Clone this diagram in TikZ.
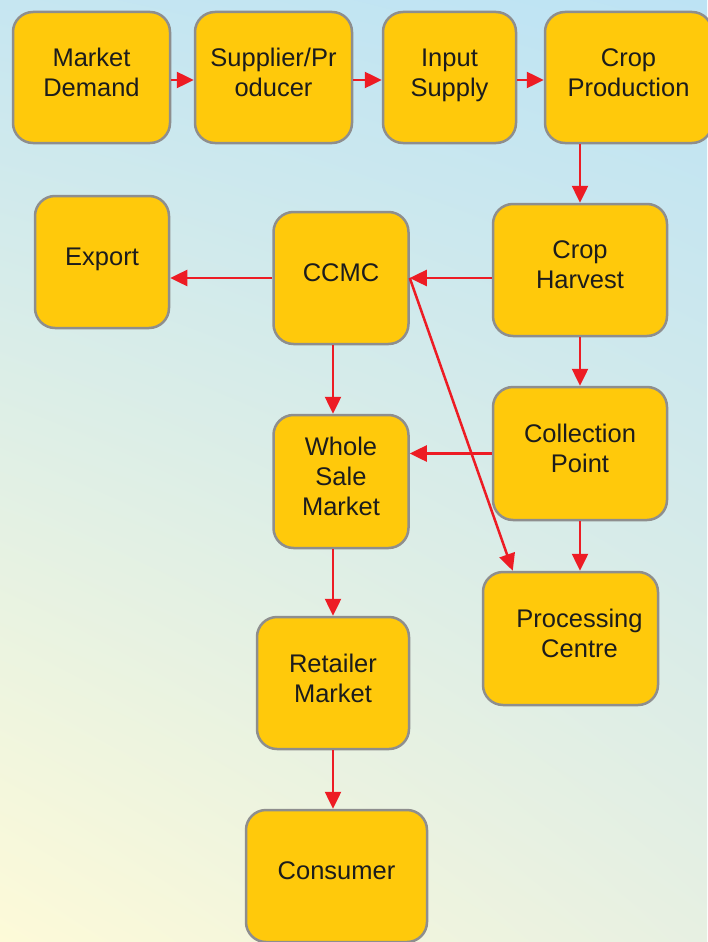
\documentclass[tikz,border=0pt]{standalone}
\usepackage{fontspec}
\setmainfont{Liberation Sans}
\usetikzlibrary{arrows.meta,shadings}
\definecolor{boxgold}{HTML}{FFC90B}
\definecolor{boxgray}{HTML}{8E8E8E}
\definecolor{arrred}{HTML}{ED1C24}
\definecolor{txtdark}{HTML}{1C1C1C}
\tikzset{
  stage/.style={shape=rectangle,draw=boxgray,line width=2.5pt,fill=boxgold,
    rounded corners=20pt,align=center,inner sep=0pt,text=txtdark,text depth=10pt,
    font=\fontsize{25.5}{30}\selectfont},
  arr/.style={draw=arrred,line width=2.5pt,-{Triangle[length=17pt,width=16pt]}}
}
\begin{document}
\begin{tikzpicture}[x=1pt,y=-1pt]
    \useasboundingbox (0,0) rectangle (707,942);
    \shade[upper left={rgb,255:red,198;green,230;blue,241},
           upper right={rgb,255:red,189;green,227;blue,244},
           lower left={rgb,255:red,253;green,250;blue,216},
           lower right={rgb,255:red,231;green,240;blue,226}]
           (0,0) rectangle (707,942);

    \node[stage,minimum width=157pt,minimum height=131pt] (MD) at (91.5,77.5) {Market\\Demand};
    \node[stage,minimum width=157pt,minimum height=131pt] (SP) at (273.5,77.5) {Supplier/Pr\\oducer};
    \node[stage,minimum width=133pt,minimum height=131pt] (IS) at (449.5,77.5) {Input\\Supply};
    \node[stage,minimum width=167pt,minimum height=131pt] (CP) at (628.5,77.5) {Crop\\Production};
    \node[stage,minimum width=174pt,minimum height=132pt] (CH) at (580,270) {Crop\\Harvest};
    \node[stage,minimum width=135pt,minimum height=132pt] (CC) at (341,278) {CCMC};
    \node[stage,minimum width=134pt,minimum height=132pt] (EX) at (102,262) {Export};
    \node[stage,minimum width=135pt,minimum height=133pt] (WS) at (341,481.5) {Whole\\Sale\\Market};
    \node[stage,minimum width=174pt,minimum height=133pt] (CO) at (580,453.5) {Collection\\Point};
    \node[stage,minimum width=175pt,minimum height=133pt] (PC) at (570.5,638.5) {\hspace*{18pt}Processing\\\hspace*{18pt}Centre};
    \node[stage,minimum width=152pt,minimum height=132pt] (RM) at (333,683) {Retailer\\Market};
    \node[stage,minimum width=181pt,minimum height=132pt] (CN) at (336.5,876) {Consumer};

    \draw [arr] ([yshift=-2.5pt]MD.east) -- ([yshift=-2.5pt]SP.west);
    \draw [arr] ([yshift=-2.5pt]SP.east) -- ([yshift=-2.5pt]IS.west);
    \draw [arr] ([yshift=-2.5pt]IS.east) -- ([yshift=-2.5pt]CP.west);
    \draw [arr] (CP.south -| CH.north) -- (CH.north);
    \draw [arr] (CC.east -| CH.west) -- (CC.east);
    \draw [arr] (CC.west) -- (CC.west -| EX.east);
    \draw [arr] (CC.south -| RM.north) -- (WS.north -| RM.north);
    \draw [arr] (CH.south) -- (CO.north);
    \draw [arr] (CO.west) -- (CO.west -| WS.east);
    \draw [arr] (CC.east) -- ([xshift=31pt]PC.north west);
    \draw [arr] (CO.south) -- (CO.south |- PC.north);
    \draw [arr] (WS.south -| RM.north) -- (RM.north);
    \draw [arr] (RM.south) -- (RM.south |- CN.north);
\end{tikzpicture}
\end{document}
